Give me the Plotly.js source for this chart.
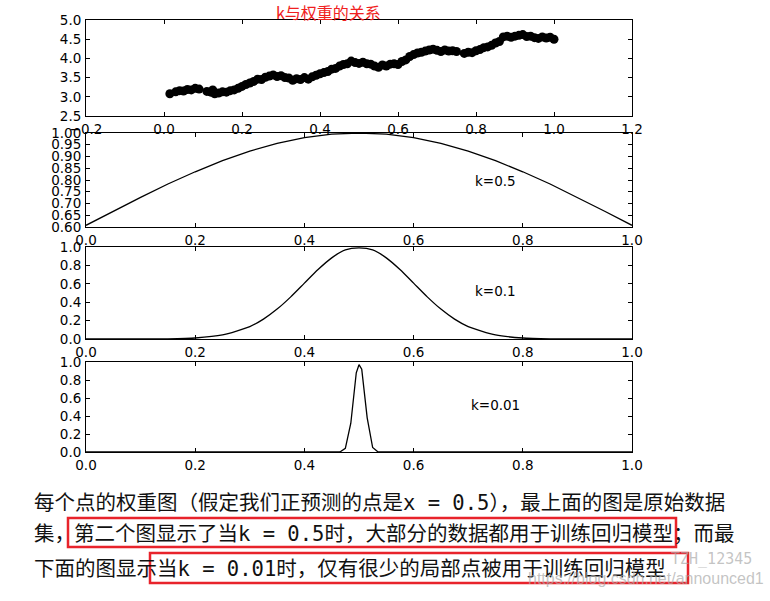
<!DOCTYPE html>
<html>
<head>
<meta charset="utf-8">
<script src="https://cdn.plot.ly/plotly-3.0.1.min.js"></script>
<style>
  html, body { margin: 0; padding: 0; background: #fff; }
  #chart { width: 770px; height: 601px; }
</style>
</head>
<body>
<div id="chart"></div>
<script>
// raw data points (top panel)
const dataX = [0.015, 0.03, 0.04, 0.05, 0.06, 0.07, 0.08, 0.09, 0.11, 0.12, 0.125, 0.13, 0.14, 0.15,
  0.16, 0.17, 0.18, 0.19, 0.20, 0.21, 0.22, 0.23, 0.24, 0.25, 0.26, 0.27, 0.28, 0.29, 0.30,
  0.31, 0.32, 0.33, 0.34, 0.35, 0.36, 0.37, 0.38, 0.39, 0.40, 0.41, 0.42, 0.43, 0.44, 0.45,
  0.46, 0.47, 0.48, 0.49, 0.50, 0.51, 0.52, 0.53, 0.54, 0.55, 0.56, 0.57, 0.58, 0.59, 0.60,
  0.61, 0.62, 0.63, 0.64, 0.65, 0.66, 0.67, 0.68, 0.69, 0.70, 0.71, 0.72, 0.73, 0.74, 0.75,
  0.77, 0.78, 0.79, 0.80, 0.81, 0.82, 0.83, 0.84, 0.85, 0.86, 0.87, 0.88, 0.89, 0.90, 0.91,
  0.92, 0.93, 0.94, 0.95, 0.96, 0.97, 0.98, 0.99, 1.00];
const dataY = [3.08, 3.13, 3.16, 3.15, 3.19, 3.18, 3.22, 3.20, 3.14, 3.12, 3.18, 3.08, 3.10, 3.13,
  3.12, 3.16, 3.18, 3.22, 3.27, 3.32, 3.36, 3.40, 3.46, 3.45, 3.51, 3.54, 3.57, 3.53, 3.55,
  3.50, 3.49, 3.43, 3.47, 3.45, 3.50, 3.46, 3.52, 3.56, 3.60, 3.63, 3.66, 3.72, 3.74, 3.80,
  3.84, 3.86, 3.93, 3.89, 3.87, 3.90, 3.86, 3.85, 3.80, 3.77, 3.83, 3.80, 3.85, 3.86, 3.84,
  3.92, 3.96, 4.05, 4.10, 4.14, 4.16, 4.19, 4.22, 4.24, 4.21, 4.18, 4.22, 4.19, 4.20, 4.18,
  4.13, 4.16, 4.15, 4.20, 4.23, 4.28, 4.30, 4.34, 4.40, 4.44, 4.56, 4.58, 4.55, 4.58, 4.60,
  4.62, 4.57, 4.58, 4.54, 4.52, 4.56, 4.53, 4.55, 4.50];

// weight curves for the three k values
const k05X = [0, 0.05, 0.10, 0.15, 0.20, 0.25, 0.30, 0.35, 0.40, 0.45, 0.50, 0.55, 0.60, 0.65, 0.70, 0.75, 0.80, 0.85, 0.90, 0.95, 1.0];
const k05Y = [0.607, 0.667, 0.726, 0.783, 0.835, 0.882, 0.923, 0.956, 0.980, 0.995, 1.0, 0.995, 0.980, 0.956, 0.923, 0.882, 0.835, 0.783, 0.726, 0.667, 0.607];

const k01X = [0, 0.10, 0.15, 0.20, 0.25, 0.30, 0.325, 0.35, 0.375, 0.40, 0.425, 0.45, 0.475, 0.50, 0.525, 0.55, 0.575, 0.60, 0.625, 0.65, 0.675, 0.70, 0.75, 0.80, 0.85, 0.90, 1.0];
const k01Y = [0, 0.0003, 0.002, 0.011, 0.044, 0.135, 0.216, 0.325, 0.458, 0.607, 0.755, 0.882, 0.969, 0.99, 0.969, 0.882, 0.755, 0.607, 0.458, 0.325, 0.216, 0.135, 0.044, 0.011, 0.002, 0.0003, 0];

const k001X = [0, 0.465, 0.475, 0.485, 0.495, 0.50, 0.505, 0.515, 0.525, 0.535, 1.0];
const k001Y = [0, 0, 0.04, 0.32, 0.88, 0.97, 0.92, 0.38, 0.05, 0, 0];

const panelLabels = ['k=0.5', 'k=0.1', 'k=0.01'];
const titleText = 'k与权重的关系';

const MONO = 'font-family:DejaVu Sans Mono,monospace';
const line1 = '每个点的权重图（假定我们正预测的点是<span style="' + MONO + '">x = 0.5</span>），最上面的图是原始数据';
const line2a = '集，';
const line2b = '第二个图显示了当<span style="' + MONO + '">k = 0.5</span>时，大部分的数据都用于训练回归模型；而最';
const line3a = '下面的图显示';
const line3b = '当<span style="' + MONO + '">k = 0.01</span>时，仅有很少的局部点被用于训练回归模型';

const W = 770, H = 601;
const px = x => x / W;
const py = y => 1 - y / H;

const TICKFONT = { family: 'DejaVu Sans, sans-serif', size: 13.5, color: '#000' };
const CJK = 'Noto Sans CJK SC, sans-serif';

function ax(extra) {
    return Object.assign({
        showline: true, linecolor: '#000', linewidth: 1, mirror: 'allticks',
        ticks: 'inside', ticklen: 4, tickcolor: '#000', tickwidth: 1,
        showgrid: false, zeroline: false, fixedrange: true,
        tickfont: TICKFONT, ticklabelstandoff: 1
    }, extra);
}

function note(x, y, text, font, anchor) {
    return { xref: 'paper', yref: 'paper', x: px(x), y: py(y), xanchor: anchor || 'left', yanchor: 'middle',
             text: text, showarrow: false, font: font };
}

const xDom = [px(86), px(632)];
const BODY = { family: CJK, size: 20.5, color: '#111' };
const KFONT = { family: 'DejaVu Sans, sans-serif', size: 13.5, color: '#000' };

const layout = {
    width: W, height: H,
    margin: { l: 0, r: 0, t: 0, b: 0 },
    paper_bgcolor: '#fff', plot_bgcolor: '#fff',
    showlegend: false,
    xaxis:  ax({ domain: xDom, anchor: 'y',  range: [-0.2, 1.2], dtick: 0.2, tick0: -0.2, tickformat: '.1f' }),
    yaxis:  ax({ domain: [py(116), py(20)], anchor: 'x', range: [2.5, 5.0], dtick: 0.5, tickformat: '.1f' }),
    xaxis2: ax({ domain: xDom, anchor: 'y2', range: [0, 1], dtick: 0.2, tickformat: '.1f' }),
    yaxis2: ax({ domain: [py(227), py(133)], anchor: 'x2', range: [0.6, 1.0], dtick: 0.05, tickformat: '.2f' }),
    xaxis3: ax({ domain: xDom, anchor: 'y3', range: [0, 1], dtick: 0.2, tickformat: '.1f' }),
    yaxis3: ax({ domain: [py(339), py(247)], anchor: 'x3', range: [0, 1], dtick: 0.2, tickformat: '.1f' }),
    xaxis4: ax({ domain: xDom, anchor: 'y4', range: [0, 1], dtick: 0.2, tickformat: '.1f' }),
    yaxis4: ax({ domain: [py(452), py(362)], anchor: 'x4', range: [0, 1], dtick: 0.2, tickformat: '.1f' }),
    annotations: [
        note(328, 12, titleText, { family: CJK, size: 16, color: '#f02020' }, 'center'),
        { xref: 'x2', yref: 'y2', x: 0.75, y: 0.795, text: panelLabels[0], showarrow: false, font: KFONT },
        { xref: 'x3', yref: 'y3', x: 0.75, y: 0.52, text: panelLabels[1], showarrow: false, font: KFONT },
        { xref: 'x4', yref: 'y4', x: 0.75, y: 0.52, text: panelLabels[2], showarrow: false, font: KFONT },

        note(32, 501, line1, BODY),
        note(32, 532, line2a, BODY),
        note(72, 532, line2b, BODY),
        note(32, 567, line3a, BODY),
        note(155, 567, line3b, BODY),

        // faint watermark of the source scan
        note(754, 559, 'TZH_12345', { family: 'DejaVu Sans Mono, monospace', size: 15, color: 'rgba(170,170,170,0.7)' }, 'right'),
        note(766, 578, 'https://blog.csdn.net/announced1', { family: 'Liberation Sans, Arial', size: 16, color: 'rgba(170,170,170,0.7)' }, 'right')
    ],
    shapes: [
        { type: 'rect', xref: 'paper', yref: 'paper', x0: px(68), x1: px(676), y0: py(547), y1: py(518),
          line: { color: '#e8232b', width: 2.5 } },
        { type: 'rect', xref: 'paper', yref: 'paper', x0: px(150), x1: px(688), y0: py(583), y1: py(553),
          line: { color: '#e8232b', width: 2.5 } }
    ]
};

const data = [
    { x: dataX, y: dataY, type: 'scatter', mode: 'markers', xaxis: 'x', yaxis: 'y',
      marker: { color: '#000', size: 9, line: { width: 0 } }, hoverinfo: 'skip' },
    { x: k05X, y: k05Y, type: 'scatter', mode: 'lines', xaxis: 'x2', yaxis: 'y2',
      line: { color: '#000', width: 1.3 }, hoverinfo: 'skip' },
    { x: k01X, y: k01Y, type: 'scatter', mode: 'lines', xaxis: 'x3', yaxis: 'y3',
      line: { color: '#000', width: 1.3, shape: 'spline', smoothing: 0.6 }, hoverinfo: 'skip' },
    { x: k001X, y: k001Y, type: 'scatter', mode: 'lines', xaxis: 'x4', yaxis: 'y4',
      line: { color: '#000', width: 1.3 }, hoverinfo: 'skip' }
];

Plotly.newPlot('chart', data, layout, { staticPlot: true, displayModeBar: false });
</script>
</body>
</html>
